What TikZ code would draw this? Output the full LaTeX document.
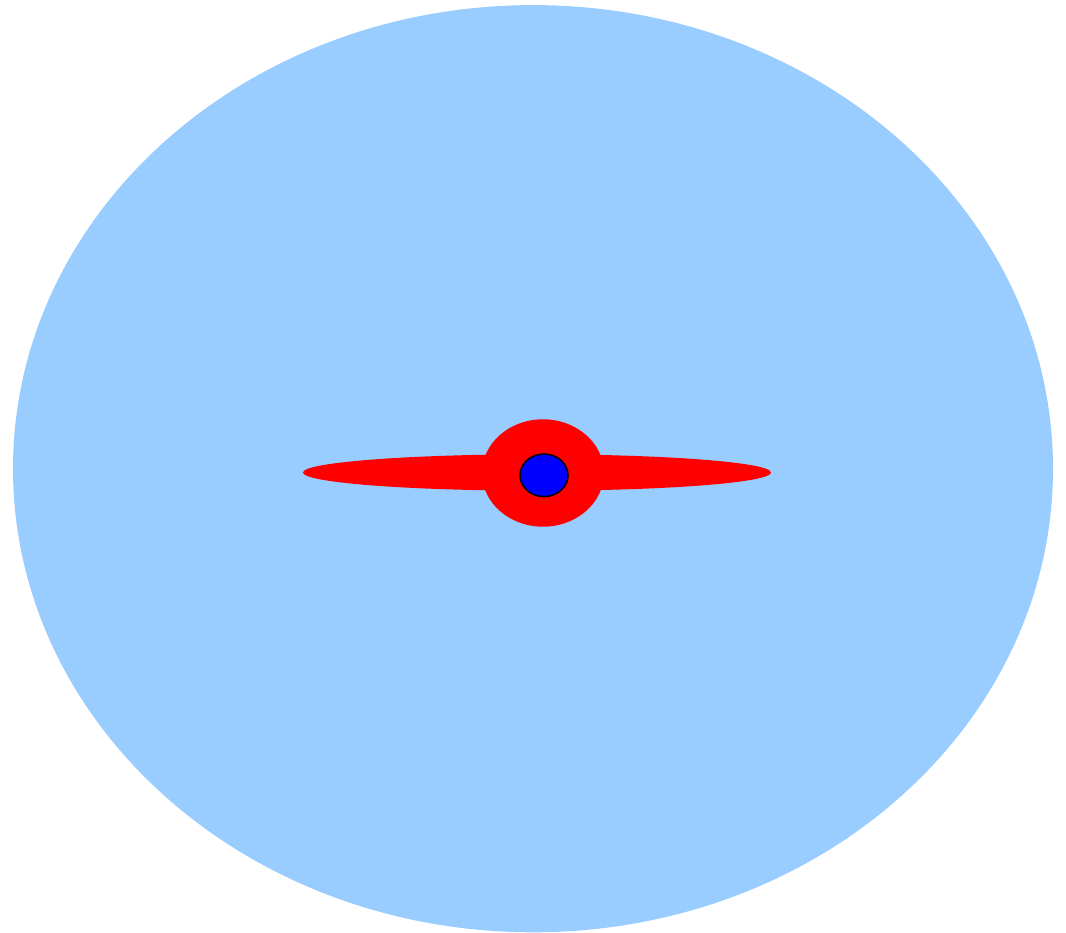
\documentclass[tikz,border=0pt]{standalone}
\definecolor{sky}{HTML}{99CCFF}
\tikzset{blob/.style={draw=none}}
\begin{document}
\begin{tikzpicture}[x=1pt,y=-1pt]
\useasboundingbox (0,0) rectangle (1066,933);
\fill[sky] (533,468.7) ellipse [x radius=520, y radius=463.6];
\fill[red] (537,472.5) ellipse [x radius=234, y radius=18.2];
\fill[red] (543,473) ellipse [x radius=61, y radius=53.7];
\filldraw[fill=blue,draw=black,line width=1.5pt] (544,475.3) ellipse [x radius=24, y radius=21.3];
\end{tikzpicture}
\end{document}
